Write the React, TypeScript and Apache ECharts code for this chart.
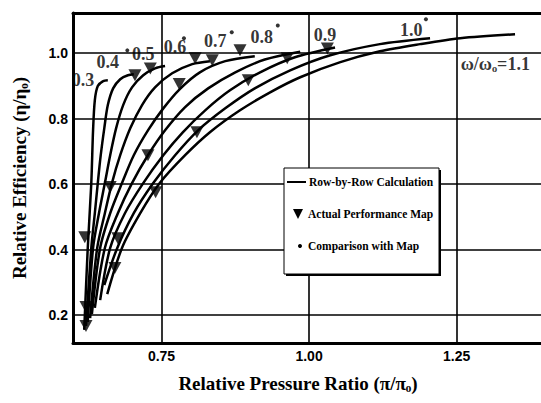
import React, { useEffect, useRef } from 'react';
import * as echarts from 'echarts';

// Speed lines (omega / omega_o) — row-by-row calculation curves [pressure ratio, efficiency]
const speedNames = ['0.3', '0.4', '0.5', '0.6', '0.7', '0.8', '0.9', '1.0', '1.1'];
const curve03 = [[0.619, 0.155], [0.625, 0.405], [0.631, 0.603], [0.634, 0.764], [0.637, 0.856], [0.642, 0.899], [0.651, 0.914], [0.659, 0.917]];
const curve04 = [[0.622, 0.167], [0.631, 0.405], [0.637, 0.511], [0.642, 0.603], [0.647, 0.688], [0.653, 0.770], [0.659, 0.841], [0.668, 0.892], [0.680, 0.920], [0.693, 0.932], [0.703, 0.935]];
const curve05 = [[0.625, 0.179], [0.634, 0.405], [0.644, 0.511], [0.654, 0.603], [0.663, 0.688], [0.673, 0.770], [0.685, 0.841], [0.700, 0.895], [0.719, 0.932], [0.739, 0.953], [0.756, 0.960]];
const curve06 = [[0.629, 0.191], [0.641, 0.405], [0.654, 0.511], [0.666, 0.603], [0.680, 0.688], [0.697, 0.770], [0.717, 0.841], [0.739, 0.895], [0.768, 0.938], [0.802, 0.966], [0.832, 0.975]];
const curve07 = [[0.632, 0.203], [0.646, 0.405], [0.663, 0.511], [0.683, 0.603], [0.703, 0.688], [0.727, 0.764], [0.753, 0.831], [0.781, 0.890], [0.815, 0.941], [0.858, 0.975], [0.908, 0.990]];
const curve08 = [[0.637, 0.222], [0.654, 0.405], [0.676, 0.511], [0.700, 0.603], [0.727, 0.688], [0.756, 0.764], [0.790, 0.835], [0.829, 0.892], [0.875, 0.941], [0.925, 0.980], [0.985, 1.004]];
const curve09 = [[0.646, 0.246], [0.663, 0.405], [0.688, 0.511], [0.719, 0.603], [0.753, 0.688], [0.786, 0.758], [0.824, 0.825], [0.866, 0.886], [0.917, 0.941], [0.976, 0.987], [1.044, 1.017]];
const curve10 = [[0.653, 0.292], [0.675, 0.405], [0.703, 0.511], [0.736, 0.603], [0.773, 0.688], [0.812, 0.764], [0.858, 0.831], [0.908, 0.892], [0.968, 0.947], [1.036, 0.993], [1.120, 1.027], [1.205, 1.045]];
const curve11 = [[0.658, 0.264], [0.683, 0.405], [0.714, 0.511], [0.747, 0.603], [0.790, 0.688], [0.832, 0.758], [0.883, 0.825], [0.934, 0.880], [0.985, 0.926], [1.053, 0.972], [1.120, 1.005], [1.188, 1.027], [1.256, 1.045], [1.349, 1.057]];
const curves = [curve03, curve04, curve05, curve06, curve07, curve08, curve09, curve10, curve11];

// Actual performance map points
const actualMapX = [0.622, 0.622, 0.620, 0.676, 0.671, 0.663, 0.727, 0.740, 0.810, 0.780, 0.897, 0.963, 0.705, 0.731, 0.807, 0.836, 0.883, 1.031];
const actualMapY = [0.225, 0.167, 0.438, 0.435, 0.344, 0.591, 0.688, 0.575, 0.758, 0.905, 0.917, 0.984, 0.932, 0.953, 0.984, 0.978, 1.008, 1.014];

// Comparison with map points
const compareX = [0.692, 0.788, 0.869, 0.947, 1.198];
const compareY = [1.008, 1.045, 1.063, 1.084, 1.103];

// Speed-line label anchors
const labelX = [0.617, 0.659, 0.719, 0.773, 0.841, 0.920, 1.027, 1.173, 1.256];
const labelY = [0.917, 0.972, 0.996, 1.017, 1.036, 1.048, 1.054, 1.069, 0.966];

// Axis ticks
const xTicks = [0.75, 1.0, 1.25];
const yTicks = [0.2, 0.4, 0.6, 0.8, 1.0];
const xMin = 0.6, xMax = 1.393, yMin = 0.115, yMax = 1.122;

const serif = '"Liberation Serif", "Times New Roman", serif';
const sans = '"Liberation Sans", Arial, sans-serif';

export default function App() {
  const ref = useRef<HTMLDivElement>(null);
  useEffect(() => {
    const chart = echarts.init(ref.current!, null, { renderer: 'svg' });
    const lineSeries = curves.map((c, i) => ({
      type: 'line',
      name: 'Row-by-Row Calculation',
      data: c,
      smooth: 0.3,
      showSymbol: false,
      symbol: 'none',
      lineStyle: { color: '#000', width: 2.5 },
      z: 3,
      silent: true,
      ...(i === 0
        ? {
            markLine: {
              silent: true,
              symbol: 'none',
              label: { show: false },
              lineStyle: { color: '#000', width: 1.6, type: 'solid' },
              data: [
                ...xTicks.map((v) => ({ xAxis: v })),
                ...yTicks.map((v) => ({ yAxis: v })),
              ],
              z: 1,
            },
          }
        : {}),
    }));
    const labelData = speedNames.map((n, i) => {
      if (i === speedNames.length - 1) {
        return {
          value: [labelX[i], labelY[i]],
          name: 'ω/ωₒ=1.1',
          label: { position: 'right', distance: 0 },
        };
      }
      return { value: [labelX[i], labelY[i]], name: n };
    });
    const option: any = {
      animation: false,
      backgroundColor: '#fff',
      grid: { left: 73, right: 0, top: 13, bottom: 60, outerBoundsMode: 'none' },
      xAxis: [
        {
          type: 'value',
          min: xMin,
          max: xMax,
          position: 'bottom',
          axisLine: { show: true, lineStyle: { color: '#000', width: 3 } },
          axisTick: { show: false },
          splitLine: { show: false },
          axisLabel: {
            customValues: xTicks,
            formatter: (v: number) => v.toFixed(2),
            color: '#000',
            fontFamily: sans,
            fontWeight: 'bold',
            fontSize: 14,
            margin: 6,
          },
          name: 'Relative Pressure Ratio (π/πₒ)',
          nameLocation: 'middle',
          nameGap: 31,
          nameTextStyle: { fontFamily: serif, fontSize: 19, fontWeight: 'bold', color: '#000', padding: [0, 18, 0, 0] },
        },
        {
          type: 'value',
          min: xMin,
          max: xMax,
          position: 'top',
          axisLine: { show: true, lineStyle: { color: '#000', width: 3 } },
          axisTick: { show: false },
          splitLine: { show: false },
          axisLabel: { show: false },
        },
      ],
      yAxis: {
        type: 'value',
        min: yMin,
        max: yMax,
        axisLine: { show: true, lineStyle: { color: '#000', width: 3 } },
        axisTick: { show: false },
        splitLine: { show: false },
        axisLabel: {
          customValues: yTicks,
          formatter: (v: number) => v.toFixed(1),
          color: '#000',
          fontFamily: sans,
          fontWeight: 'bold',
          fontSize: 14,
          margin: 5,
        },
        name: 'Relative Efficiency (η/ηₒ)',
        nameLocation: 'middle',
        nameGap: 44,
        nameTextStyle: { fontFamily: serif, fontSize: 19, fontWeight: 'bold', color: '#000' },
      },
      series: [
        ...lineSeries,
        {
          type: 'scatter',
          name: 'Actual Performance Map',
          data: actualMapX.map((x, i) => [x, actualMapY[i]]),
          symbol: 'triangle',
          symbolRotate: 180,
          symbolSize: [13, 12],
          itemStyle: { color: '#000' },
          z: 4,
          silent: true,
        },
        {
          type: 'scatter',
          name: 'Comparison with Map',
          data: compareX.map((x, i) => [x, compareY[i]]),
          symbol: 'circle',
          symbolSize: 4,
          itemStyle: { color: '#000' },
          z: 4,
          silent: true,
        },
        {
          type: 'scatter',
          name: 'speed labels',
          data: labelData,
          symbolSize: 1,
          itemStyle: { color: 'rgba(0,0,0,0)' },
          label: {
            show: true,
            position: 'inside',
            formatter: (p: any) => p.name,
            fontFamily: serif,
            fontSize: 18,
            fontWeight: 'bold',
            color: '#000',
          },
          z: 5,
          silent: true,
        },
      ],
      graphic: [
        { type: 'rect', z: 100, shape: { x: 286, y: 170, width: 155, height: 106 }, style: { fill: '#000' } },
        { type: 'rect', z: 101, shape: { x: 284, y: 168, width: 155, height: 106 }, style: { fill: '#fff', stroke: '#000', lineWidth: 1 } },
        { type: 'line', z: 102, shape: { x1: 287, y1: 182, x2: 306, y2: 182 }, style: { stroke: '#000', lineWidth: 2 } },
        { type: 'text', z: 102, x: 309, y: 182, style: { text: 'Row-by-Row Calculation', font: `bold 11.5px ${serif}`, fill: '#000', verticalAlign: 'middle' } },
        { type: 'polygon', z: 102, shape: { points: [[293, 209], [303, 209], [298, 219]] }, style: { fill: '#000' } },
        { type: 'text', z: 102, x: 308, y: 214, style: { text: 'Actual Performance Map', font: `bold 11.5px ${serif}`, fill: '#000', verticalAlign: 'middle' } },
        { type: 'circle', z: 102, shape: { cx: 300, cy: 246, r: 2 }, style: { fill: '#000' } },
        { type: 'text', z: 102, x: 308, y: 246, style: { text: 'Comparison with Map', font: `bold 11.5px ${serif}`, fill: '#000', verticalAlign: 'middle' } },
      ],
    };
    chart.setOption(option);
    return () => chart.dispose();
  }, []);
  return (
    <div
      ref={ref}
      style={{ position: 'fixed', left: 0, top: 0, width: 541, height: 403, background: '#fff' }}
    />
  );
}
